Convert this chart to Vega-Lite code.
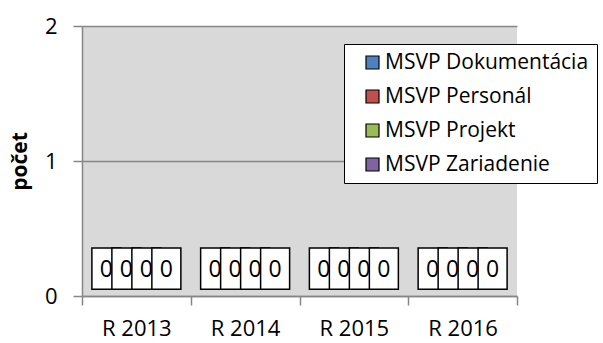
{
  "$schema": "https://vega.github.io/schema/vega-lite/v6.json",
  "width": 435,
  "height": 270,
  "autosize": {"type": "none"},
  "padding": {"left": 82, "top": 26, "right": 86, "bottom": 47},
  "background": "white",
  "config": {
    "view": {"fill": "#D9D9D9", "stroke": null},
    "font": "Open Sans",
    "axisY": {
      "titleFontSize": 21,
      "titleFontWeight": "bold",
      "titleColor": "black",
      "titlePadding": 14,
      "labelFontSize": 22,
      "labelColor": "black",
      "labelPadding": 16,
      "tickSize": 9,
      "tickColor": "#868686",
      "tickWidth": 1.5,
      "domainColor": "#868686",
      "domainWidth": 1.5,
      "grid": true,
      "gridColor": "#868686",
      "gridWidth": 1.5
    }
  },
  "data": {
    "values": [
      {"year": "R 2013", "series": "MSVP Dokumentácia", "value": 0},
      {"year": "R 2013", "series": "MSVP Personál", "value": 0},
      {"year": "R 2013", "series": "MSVP Projekt", "value": 0},
      {"year": "R 2013", "series": "MSVP Zariadenie", "value": 0},
      {"year": "R 2014", "series": "MSVP Dokumentácia", "value": 0},
      {"year": "R 2014", "series": "MSVP Personál", "value": 0},
      {"year": "R 2014", "series": "MSVP Projekt", "value": 0},
      {"year": "R 2014", "series": "MSVP Zariadenie", "value": 0},
      {"year": "R 2015", "series": "MSVP Dokumentácia", "value": 0},
      {"year": "R 2015", "series": "MSVP Personál", "value": 0},
      {"year": "R 2015", "series": "MSVP Projekt", "value": 0},
      {"year": "R 2015", "series": "MSVP Zariadenie", "value": 0},
      {"year": "R 2016", "series": "MSVP Dokumentácia", "value": 0},
      {"year": "R 2016", "series": "MSVP Personál", "value": 0},
      {"year": "R 2016", "series": "MSVP Projekt", "value": 0},
      {"year": "R 2016", "series": "MSVP Zariadenie", "value": 0}
    ]
  },
  "encoding": {
    "x": {
      "field": "year",
      "type": "nominal",
      "scale": {"paddingInner": 0, "paddingOuter": 0},
      "axis": {
        "title": null,
        "labelAngle": 0,
        "labelFontSize": 22,
        "labelColor": "black",
        "labelPadding": 13,
        "tickBand": "extent",
        "tickSize": 9,
        "tickColor": "#868686",
        "domainColor": "#868686",
        "domainWidth": 1.5,
        "tickWidth": 1.5,
        "grid": false
      }
    },
    "xOffset": {
      "field": "series",
      "type": "nominal",
      "scale": {"domain": ["MSVP Dokumentácia", "MSVP Personál", "MSVP Projekt", "MSVP Zariadenie"], "paddingInner": 0, "paddingOuter": 0.72}
    }
  },
  "layer": [
    {
      "mark": {"type": "bar"},
      "encoding": {
        "y": {
          "field": "value",
          "type": "quantitative",
          "scale": {"domain": [0, 2], "nice": false},
          "axis": {"tickCount": 2, "title": "počet"}
        },
        "color": {
          "field": "series",
          "type": "nominal",
          "scale": {
            "domain": ["MSVP Dokumentácia", "MSVP Personál", "MSVP Projekt", "MSVP Zariadenie"],
            "range": ["#4F81BD", "#C0504D", "#9BBB59", "#8064A2"]
          },
          "legend": {
            "title": null,
            "orient": "none",
            "legendX": 262,
            "legendY": 18,
            "fillColor": "white",
            "strokeColor": "black",
            "padding": 8,
            "symbolType": "square",
            "symbolSize": 169,
            "symbolStrokeColor": "black",
            "symbolStrokeWidth": 1.2,
            "symbolOpacity": 1,
            "symbolOffset": 10,
            "labelFontSize": 21,
            "labelColor": "black",
            "labelOffset": 2,
            "labelLimit": 400,
            "rowPadding": 12
          }
        }
      }
    },
    {
      "transform": [{"filter": "datum.series === 'MSVP Dokumentácia'"}],
      "layer": [
        {"mark": {"type": "bar", "width": 29, "fill": "white", "stroke": "black", "strokeWidth": 1.5}, "encoding": {"y": {"datum": 0.05, "axis": {"tickCount": 2, "title": "počet"}}, "y2": {"datum": 0.355}}},
        {"mark": {"type": "text", "fontSize": 23, "baseline": "middle", "color": "black"}, "encoding": {"y": {"datum": 0.19, "axis": {"tickCount": 2, "title": "počet"}}, "text": {"field": "value", "type": "quantitative"}}}
      ]
    },
    {
      "transform": [{"filter": "datum.series === 'MSVP Personál'"}],
      "layer": [
        {"mark": {"type": "bar", "width": 29, "fill": "white", "stroke": "black", "strokeWidth": 1.5}, "encoding": {"y": {"datum": 0.05, "axis": {"tickCount": 2, "title": "počet"}}, "y2": {"datum": 0.355}}},
        {"mark": {"type": "text", "fontSize": 23, "baseline": "middle", "color": "black"}, "encoding": {"y": {"datum": 0.19, "axis": {"tickCount": 2, "title": "počet"}}, "text": {"field": "value", "type": "quantitative"}}}
      ]
    },
    {
      "transform": [{"filter": "datum.series === 'MSVP Projekt'"}],
      "layer": [
        {"mark": {"type": "bar", "width": 29, "fill": "white", "stroke": "black", "strokeWidth": 1.5}, "encoding": {"y": {"datum": 0.05, "axis": {"tickCount": 2, "title": "počet"}}, "y2": {"datum": 0.355}}},
        {"mark": {"type": "text", "fontSize": 23, "baseline": "middle", "color": "black"}, "encoding": {"y": {"datum": 0.19, "axis": {"tickCount": 2, "title": "počet"}}, "text": {"field": "value", "type": "quantitative"}}}
      ]
    },
    {
      "transform": [{"filter": "datum.series === 'MSVP Zariadenie'"}],
      "layer": [
        {"mark": {"type": "bar", "width": 29, "fill": "white", "stroke": "black", "strokeWidth": 1.5}, "encoding": {"y": {"datum": 0.05, "axis": {"tickCount": 2, "title": "počet"}}, "y2": {"datum": 0.355}}},
        {"mark": {"type": "text", "fontSize": 23, "baseline": "middle", "color": "black"}, "encoding": {"y": {"datum": 0.19, "axis": {"tickCount": 2, "title": "počet"}}, "text": {"field": "value", "type": "quantitative"}}}
      ]
    }
  ]
}
